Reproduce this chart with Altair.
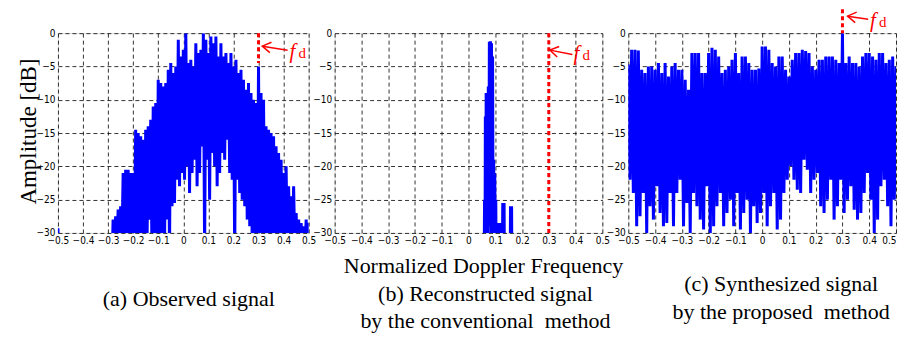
import math
import altair as alt
import pandas as pd

# ---------------- data ----------------
X_TICKS = [-0.5, -0.4, -0.3, -0.2, -0.1, 0, 0.1, 0.2, 0.3, 0.4, 0.5]
Y_TICKS = [-30, -25, -20, -15, -10, -5, 0]

# (a) Observed signal: peak / trough envelope sampled every 0.01
freq_a = [round(-0.5 + 0.01 * i, 3) for i in range(101)]
upper_a = [-29.3,
           -34, -34, -34, -34, -34, -34, -34, -34, -34, -34, -34,
           -34, -34, -34, -34, -34, -34, -34, -34, -34, -34,
           -28, -27.5, -26.5, -26, -21, -20.5, -20.5, -21, -21,
           -14.5, -15, -15.5, -16, -14.5, -14, -13, -11, -10.5, -7,
           -7.5, -8, -7.5, -5.5, -4.5, -6, -5, -1, -3.5, -2.5,
           0, -4.5, -4, -5, -1.5, -3, -2.5, 0, -1, -3,
           -0.5, -1.5, -0.5, -3.5, -1.5, -3.5, -3, -4.5, -3, -5,
           -4, -6, -5.5, -7, -8.5, -7.5, -9, -10, -10.5, -5,
           -9, -10, -14, -14.5, -15, -15.5, -17, -18, -19, -21,
           -20, -23, -24.5, -23, -27, -28, -28.5, -29, -28, -28.5]
lower_a = [-35,
           -36, -36, -36, -36, -36, -36, -36, -36, -36, -36, -36,
           -36, -36, -36, -36, -36, -36, -36, -36, -36, -36,
           -33, -33, -33, -33, -33, -33, -33, -33, -33,
           -33, -33, -33, -33, -33, -28, -33, -33, -33, -33,
           -30, -33, -28, -33, -26, -25.5, -22, -23, -21, -22,
           -20, -24, -21, -19, -23, -21, -17, -33, -19, -25,
           -18, -20, -23, -21, -18, -19, -16, -21, -22, -33,
           -22, -24, -25, -26, -28, -29, -33, -33, -33, -33,
           -33, -33, -33, -33, -33, -33, -33, -33, -33, -33,
           -33, -33, -33, -33, -33, -33, -33, -33, -33, -33]

# (b) Reconstructed signal by the conventional method
freq_b = [-0.5, 0.058, 0.060, 0.062, 0.063, 0.065, 0.066, 0.068, 0.070, 0.072,
          0.074, 0.076, 0.078, 0.080, 0.082, 0.084, 0.086, 0.088, 0.090, 0.092,
          0.094, 0.096, 0.098, 0.100, 0.102, 0.104, 0.108, 0.110, 0.112, 0.118,
          0.120, 0.122, 0.126, 0.128, 0.130, 0.133, 0.135, 0.155, 0.157, 0.159,
          0.161, 0.163, 0.5]
amp_b = [-40, -40, -25, -31, -12.5, -31, -9, -28, -9.5, -31,
         -8, -29, -1.3, -27, -1.2, -31, -1.5, -24, -3.5, -31,
         -19, -28, -21, -31, -25, -40, -40, -28.5, -40, -40,
         -28.5, -40, -40, -25.5, -40, -25.5, -40, -40, -26, -40,
         -26, -40, -40]

# (c) Synthesized signal by the proposed method: envelope every 0.0125
freq_c = [round(-0.5 + 0.0125 * i, 4) for i in range(81)]
upper_c = [-4.7, -2.5, -2.5, -2.6, -5.5, -6, -5, -5, -5.5, -4.5,
           -6, -4.5, -6.5, -5, -4.5, -5.5, -5.5, -7, -8.5, -3,
           -3, -3, -6, -6, -3, -2.2, -2.5, -3.5, -6, -5.5,
           -5, -4, -3, -6, -3.5, -3.5, -4.5, -5.5, -5.5, -5.3,
           -2, -2, -2.5, -4.5, -5, -3.5, -3.5, -5.5, -6.5, -4,
           -3, -3, -2.5, -2.7, -3, -5, -5.5, -4, -4, -3.5,
           -3.5, -3.5, -4, -4.5, 0, -4.5, -3.5, -4.5, -4.5, -5,
           -3.5, -3, -3, -3.5, -4, -3, -3, -4.5, -4, -3.5, -5]
lower_c = [-22, -24, -29, -27.5, -24, -30, -26, -28, -23, -27,
           -29, -28.5, -24, -29, -24, -22, -29, -25.5, -30, -24,
           -26, -28, -29.5, -23, -30, -29, -26, -24, -29, -27,
           -25, -29, -24, -29.5, -27, -25, -30, -26, -28.5, -27,
           -24, -29, -26, -24, -29.5, -28, -24, -22, -20, -22,
           -23.5, -24, -19, -20.5, -24, -22, -21, -26, -27, -25,
           -22, -28, -26, -22, -27, -25, -23, -26.5, -28, -27,
           -24, -21, -25, -30, -28, -23, -22, -26, -29, -25, -22]

# Doppler frequency marker and its annotation
fd_freq = [0.3, 0.3, 0.3]
fd_top = [0, 0, 3.6]
fd_bottom = [-4.5, -30, 0]
arrow_tip = [(0.315, -1.95), (0.304, -2.55), (0.319, 2.55)]
arrow_tail = [(0.416, -2.55), (0.388, -3.2), (0.396, 2.1)]
label_pos = [(0.424, -3.75), (0.392, -4.05), (0.403, 0.9)]

captions = [["(a) Observed signal"],
            ["(b) Reconstructed signal", "by the conventional\u00a0 method"],
            ["(c) Synthesized signal", "by the proposed\u00a0 method"]]
x_title = "Normalized Doppler Frequency"
y_title = "Amplitude [dB]"

# ---------------- layout / style ----------------
PANEL_W = [251, 268, 268]
PANEL_H = 200
SERIF = "Liberation Serif"
TICKFONT = "Liberation Sans Narrow, DejaVu Sans Condensed, Liberation Sans"
CAP_POS = [(131, 266, 26), (151, 261, 27), (153, 251, 28)]


def envelope_df(freqs, upper, lower, half):
    rows = []
    for f, u, l in zip(freqs, upper, lower):
        rows.append((f, u))
        rows.append((f + half, l))
    df = pd.DataFrame(rows, columns=["f", "amp"])
    df["i"] = range(len(df))
    return df


def series_df(freqs, amps):
    df = pd.DataFrame({"f": freqs, "amp": amps})
    df["i"] = range(len(df))
    return df


spectra = [
    envelope_df(freq_a, upper_a, lower_a, 0.005),
    series_df(freq_b, amp_b),
    envelope_df(freq_c, upper_c, lower_c, 0.00625),
]


def arrow_df(k):
    w = PANEL_W[k]
    sx, sy = w / 1.0, PANEL_H / 30.0
    (tx, ty), (ax, ay) = arrow_tip[k], arrow_tail[k]
    dx, dy = (ax - tx) * sx, -(ay - ty) * sy
    L = math.hypot(dx, dy)
    ux, uy = dx / L, dy / L
    rows = [("shaft", 0, ax, ay), ("shaft", 1, tx, ty)]
    heads = []
    for s in (1, -1):
        a = math.radians(32) * s
        rx = ux * math.cos(a) - uy * math.sin(a)
        ry = ux * math.sin(a) + uy * math.cos(a)
        heads.append((tx + 10 * rx / sx, ty - 10 * ry / sy))
    rows += [("head", 0, heads[0][0], heads[0][1]), ("head", 1, tx, ty),
             ("head", 2, heads[1][0], heads[1][1])]
    return pd.DataFrame(rows, columns=["seg", "o", "f", "amp"])


def X(k):
    kw = dict(values=X_TICKS, format=".1~f", labelFlush=False, title=None, grid=True,
              gridColor="black", gridDash=[4, 3], gridWidth=0.8, gridOpacity=1, ticks=False,
              domain=False, labelFont=TICKFONT, labelFontSize=10, labelColor="black",
              labelPadding=3, labelOverlap=False)
    if k == 2:
        # keep the last label inside the page
        kw["labelAlign"] = {"condition": {"test": "datum.value >= 0.5", "value": "right"},
                            "value": "center"}
    return alt.X("f:Q", scale=alt.Scale(domain=[-0.5, 0.5], nice=False, zero=False),
                 axis=alt.Axis(**kw))


def Y(k):
    kw = dict(values=Y_TICKS, format="d", grid=True, gridColor="black", gridDash=[4, 3],
              gridWidth=0.8, gridOpacity=1, ticks=False, domain=False, labelFont=TICKFONT,
              labelFontSize=10, labelColor="black", labelPadding=3, labelOverlap=False,
              labelFlush=False)
    if k == 0:
        kw.update(title=y_title, titleFont=SERIF, titleFontSize=23, titleFontWeight="normal",
                  titleColor="black", titleX=-29, titleY=98, titleAngle=270,
                  titleAlign="center", titleBaseline="middle")
    else:
        kw.update(title=None)
    return alt.Y("amp:Q", scale=alt.Scale(domain=[-30, 0], nice=False, zero=False),
                 axis=alt.Axis(**kw))


def panel(k):
    spec = alt.Chart(spectra[k]).mark_line(color="#0000ff", strokeWidth=3, clip=True,
                                           strokeJoin="miter").encode(
        x=X(k), y=Y(k), order="i:Q")

    marker = alt.Chart(pd.DataFrame({"f": [fd_freq[k]], "amp": [fd_top[k]],
                                     "amp2": [fd_bottom[k]]})).mark_rule(
        color="#ff0000", strokeWidth=3, strokeDash=[4, 3], clip=False).encode(
        x=X(k), y=Y(k), y2="amp2:Q")

    arrow = alt.Chart(arrow_df(k)).mark_line(color="#ff0000", strokeWidth=1.5,
                                             clip=False).encode(
        x=X(k), y=Y(k), detail="seg:N", order="o:Q")

    lab = pd.DataFrame({"f": [label_pos[k][0]], "amp": [label_pos[k][1]]})
    ftxt = alt.Chart(lab).mark_text(font=SERIF, fontStyle="italic", fontSize=21,
                                    color="#ff0000", align="left",
                                    baseline="alphabetic").encode(
        x=X(k), y=Y(k), text=alt.value("f"))
    dtxt = alt.Chart(lab).mark_text(font=SERIF, fontSize=15, color="#ff0000", align="left",
                                    baseline="alphabetic", dx=9).encode(
        x=X(k), y=Y(k), text=alt.value("d"))

    cx, cy, lh = CAP_POS[k]
    cap_text = captions[k] if len(captions[k]) > 1 else captions[k][0]
    cap = alt.Chart(pd.DataFrame({"k": [k]})).mark_text(
        font=SERIF, fontSize=22, color="black", align="center", baseline="middle",
        lineHeight=lh).encode(x=alt.value(cx), y=alt.value(cy), text=alt.value(cap_text))

    layers = [spec, marker, arrow, ftxt, dtxt, cap]
    if k == 1:
        layers.append(alt.Chart(pd.DataFrame({"k": [k]})).mark_text(
            font=SERIF, fontSize=22, color="black", align="center", baseline="middle").encode(
            x=alt.value(149), y=alt.value(233), text=alt.value(x_title)))
    return alt.layer(*layers).properties(width=PANEL_W[k], height=PANEL_H)


chart = alt.hconcat(panel(0), panel(1), panel(2), spacing=26, bounds="flush").properties(
    padding={"left": 9, "top": -2, "right": 0, "bottom": 0}
).configure_view(stroke="black", strokeWidth=1).configure(background="white")

chart.save("out.html", embed_options={"renderer": "svg", "actions": False})
